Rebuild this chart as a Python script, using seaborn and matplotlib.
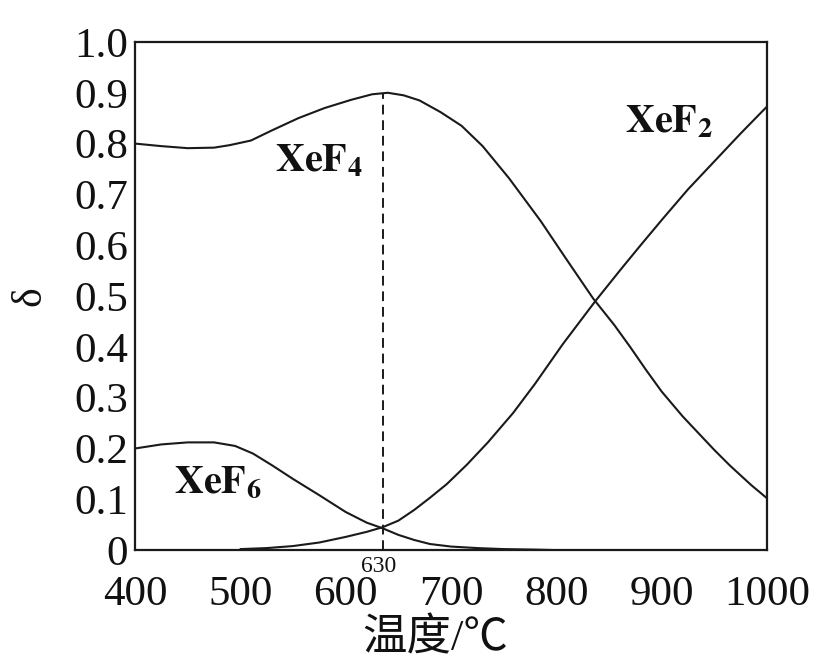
import numpy as np
import pandas as pd
import matplotlib
matplotlib.use("Agg")
import matplotlib.pyplot as plt
import seaborn as sns
from matplotlib.ticker import MultipleLocator, FixedLocator

# ---- data ----
t_xef4 = [400, 425, 450, 475, 490, 510, 530, 555, 580, 605, 625, 640, 655, 670,
          690, 710, 730, 755, 785, 810, 835, 855, 870, 885, 900, 920, 935, 950,
          965, 985, 1000]
v_xef4 = [0.800, 0.795, 0.791, 0.792, 0.797, 0.806, 0.826, 0.850, 0.870, 0.886,
          0.897, 0.900, 0.895, 0.885, 0.862, 0.835, 0.795, 0.732, 0.648, 0.571,
          0.495, 0.443, 0.400, 0.355, 0.312, 0.263, 0.230, 0.197, 0.166, 0.128, 0.102]

t_xef2 = [500, 525, 550, 575, 600, 620, 635, 650, 665, 680, 696, 715, 735, 759,
          780, 806, 837, 861, 880, 901, 925, 950, 975, 1000]
v_xef2 = [0.002, 0.004, 0.008, 0.015, 0.026, 0.036, 0.045, 0.058, 0.079, 0.103,
          0.130, 0.168, 0.212, 0.270, 0.328, 0.405, 0.490, 0.552, 0.600, 0.652,
          0.710, 0.765, 0.820, 0.873]

t_xef6 = [400, 425, 450, 475, 495, 512, 530, 550, 575, 600, 620, 635, 650, 665,
          680, 700, 725, 750, 780, 800]
v_xef6 = [0.200, 0.208, 0.212, 0.212, 0.205, 0.190, 0.167, 0.140, 0.108, 0.075,
          0.054, 0.043, 0.030, 0.020, 0.012, 0.007, 0.004, 0.002, 0.001, 0.000]

peak_t = 635
peak_label = "630"
peak_v = 0.90

x_ticks = [400, 500, 600, 700, 800, 900, 1000]
y_ticks = [0, 0.1, 0.2, 0.3, 0.4, 0.5, 0.6, 0.7, 0.8, 0.9, 1.0]
y_tick_labels = ["0", "0.1", "0.2", "0.3", "0.4", "0.5", "0.6", "0.7", "0.8", "0.9", "1.0"]

species_labels = [r"$\mathbf{XeF_4}$", r"$\mathbf{XeF_2}$", r"$\mathbf{XeF_6}$"]
label_pos = [(533, 0.765), (865, 0.84), (437, 0.13)]

# ---- build long table ----
df = pd.concat([
    pd.DataFrame({"T": t_xef4, "v": v_xef4, "s": "XeF4"}),
    pd.DataFrame({"T": t_xef2, "v": v_xef2, "s": "XeF2"}),
    pd.DataFrame({"T": t_xef6, "v": v_xef6, "s": "XeF6"}),
])

sns.set_style("white")
plt.rcParams["font.family"] = ["Liberation Serif", "Noto Sans CJK SC", "DejaVu Sans"]
plt.rcParams["mathtext.fontset"] = "stix"

fig = plt.figure(figsize=(8.31, 6.66), dpi=100)
ax = fig.add_axes([0.1625, 0.174, 0.7605, 0.763])

sns.lineplot(data=df, x="T", y="v", units="s", estimator=None, color="#1a1a1a",
             linewidth=1.5, ax=ax, sort=False, legend=False)

ax.plot([peak_t, peak_t], [0, peak_v], color="#1a1a1a", linewidth=1.4,
        linestyle=(0, (5, 3)))

for lab, (x, y) in zip(species_labels, label_pos):
    ax.text(x, y, lab, fontsize=29, ha="left", va="center", color="#111")

ax.text(peak_t - 4, -0.012, peak_label, fontsize=17, ha="center", va="top",
        color="#111", clip_on=False)

ax.set_xlim(400, 1000)
ax.set_ylim(0, 1.0)
ax.set_xticks(x_ticks)
ax.set_xticklabels([str(v) for v in x_ticks])
ax.yaxis.set_major_locator(FixedLocator(y_ticks))
ax.set_yticklabels(y_tick_labels)
ax.xaxis.set_minor_locator(MultipleLocator(50))
ax.yaxis.set_minor_locator(MultipleLocator(0.05))

ax.tick_params(axis="both", which="major", direction="in", length=7, width=1.3,
               labelsize=31, colors="#111")
ax.tick_params(axis="both", which="minor", direction="in", length=5, width=1.2)
ax.tick_params(axis="x", which="major", pad=18)
ax.tick_params(axis="y", which="major", pad=5)

for sp in ax.spines.values():
    sp.set_linewidth(1.6)
    sp.set_color("#1a1a1a")

ax.set_xlabel("温度/℃", fontsize=32, labelpad=3, color="#111")
ax.xaxis.label.set_x(0.475)
ax.set_ylabel("δ", fontsize=30, labelpad=18, color="#111")

fig.savefig("out.png", dpi=100, facecolor="white")
